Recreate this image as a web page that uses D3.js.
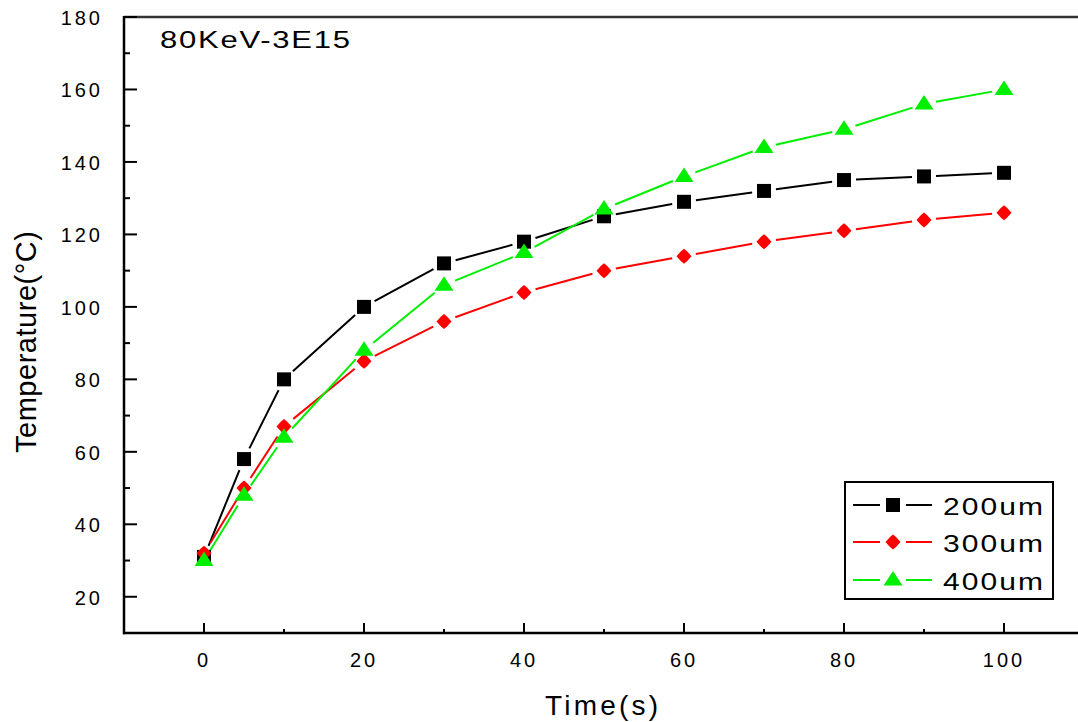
<!DOCTYPE html>
<html>
<head>
<meta charset="utf-8">
<script src="https://cdn.jsdelivr.net/npm/d3@7"></script>
<style>
  html, body { margin: 0; padding: 0; background: #fff; }
  svg { display: block; font-family: "Liberation Sans", Arial, sans-serif; }
</style>
</head>
<body>
<svg id="chart" width="1078" height="722"></svg>
<script>
// ---- data ----
const times = [0, 5, 10, 20, 30, 40, 50, 60, 70, 80, 90, 100];
const temp200 = [31, 58, 80, 100, 112, 118, 125, 129, 132, 135, 136, 137];
const temp300 = [32, 50, 67, 85, 96, 104, 110, 114, 118, 121, 124, 126];
const temp400 = [30, 48, 64, 88, 106, 115, 127, 136, 144, 149, 156, 160];
const seriesNames = ["200um", "300um", "400um"];
const xTickValues = [0, 20, 40, 60, 80, 100];
const yTickValues = [20, 40, 60, 80, 100, 120, 140, 160, 180];
const chartTitle = "80KeV-3E15";
const xTitle = "Time(s)";
const yTitle = "Temperature(°C)";

const series = [
  { name: seriesNames[0], values: temp200, color: "#000000", shape: "square" },
  { name: seriesNames[1], values: temp300, color: "#ff0000", shape: "diamond" },
  { name: seriesNames[2], values: temp400, color: "#00ee00", shape: "triangle" }
];

const svg = d3.select("#chart");
const x = d3.scaleLinear().domain([-10, 109.25]).range([124, 1078]);
const y = d3.scaleLinear().domain([10, 180]).range([633, 17]);

function markerPath(shape) {
  if (shape === "square") return "M-7,-7H7V7H-7Z";
  if (shape === "diamond") return "M0,-7.5L3,-5L7.5,0L3,5L0,7.5L-3,5L-7.5,0L-3,-5Z";
  return "M0,-9L9.5,5.5L-9.5,5.5Z";
}

// top frame line
svg.append("line").attr("x1", 124).attr("x2", 1078).attr("y1", y(180)).attr("y2", y(180))
  .attr("stroke", "#333").attr("stroke-width", 2.5);

// axes lines
svg.append("line").attr("x1", x(-10)).attr("x2", x(-10)).attr("y1", y(180) - 1).attr("y2", y(10) + 1.2)
  .attr("stroke", "#000").attr("stroke-width", 2.5);
svg.append("line").attr("x1", x(-10) - 1).attr("x2", 1078).attr("y1", y(10)).attr("y2", y(10))
  .attr("stroke", "#000").attr("stroke-width", 2.5);

// y ticks (inward)
const yMinor = d3.range(10, 181, 10).filter(v => v % 20 !== 0);
svg.selectAll(".ymaj").data(yTickValues).enter().append("line")
  .attr("x1", x(-10)).attr("x2", x(-10) + 13).attr("y1", d => y(d)).attr("y2", d => y(d))
  .attr("stroke", "#000").attr("stroke-width", 2);
svg.selectAll(".ymin").data(yMinor).enter().append("line")
  .attr("x1", x(-10)).attr("x2", x(-10) + 6).attr("y1", d => y(d)).attr("y2", d => y(d))
  .attr("stroke", "#000").attr("stroke-width", 2);
svg.selectAll(".ylab").data(yTickValues).enter().append("text")
  .attr("x", 103).attr("y", d => y(d) + 8)
  .attr("text-anchor", "end").attr("font-size", 20).attr("letter-spacing", 3)
  .attr("fill", "#000").text(d => d);

// x ticks (inward)
const xMinor = [10, 30, 50, 70, 90];
svg.selectAll(".xmaj").data(xTickValues).enter().append("line")
  .attr("x1", d => x(d)).attr("x2", d => x(d)).attr("y1", y(10)).attr("y2", y(10) - 10)
  .attr("stroke", "#000").attr("stroke-width", 2);
svg.selectAll(".xmin").data(xMinor).enter().append("line")
  .attr("x1", d => x(d)).attr("x2", d => x(d)).attr("y1", y(10)).attr("y2", y(10) - 4)
  .attr("stroke", "#000").attr("stroke-width", 2);
svg.selectAll(".xlab").data(xTickValues).enter().append("text")
  .attr("x", d => x(d)).attr("y", 667)
  .attr("text-anchor", "middle").attr("font-size", 20).attr("letter-spacing", 3)
  .attr("fill", "#000").text(d => d);

// axis titles
svg.append("text").attr("x", 545).attr("y", 715).attr("font-size", 28)
  .attr("textLength", 113).attr("lengthAdjust", "spacing").text(xTitle);
svg.append("text").attr("transform", "translate(36,453) rotate(-90)")
  .attr("font-size", 29).attr("textLength", 222).attr("lengthAdjust", "spacing").text(yTitle);

// chart title (wide, spaced glyphs)
const titleScale = 1.35;
svg.append("text").attr("transform", `translate(160,48) scale(${titleScale},1)`)
  .attr("font-size", 23)
  .attr("textLength", 190 / titleScale).attr("lengthAdjust", "spacing").text(chartTitle);

// series lines with gaps near markers
const gap = 12;
series.forEach(s => {
  const pts = times.map((t, i) => [x(t), y(s.values[i])]);
  const segs = [];
  for (let i = 0; i < pts.length - 1; i++) {
    const [x0, y0] = pts[i], [x1, y1] = pts[i + 1];
    const len = Math.hypot(x1 - x0, y1 - y0);
    if (len <= 2 * gap) continue;
    const ux = (x1 - x0) / len, uy = (y1 - y0) / len;
    segs.push([x0 + ux * gap, y0 + uy * gap, x1 - ux * gap, y1 - uy * gap]);
  }
  svg.append("g").selectAll("line").data(segs).enter().append("line")
    .attr("x1", d => d[0]).attr("y1", d => d[1]).attr("x2", d => d[2]).attr("y2", d => d[3])
    .attr("stroke", s.color).attr("stroke-width", 2);
});
// markers
series.forEach(s => {
  svg.append("g").selectAll("path").data(times.map((t, i) => [t, s.values[i]])).enter().append("path")
    .attr("d", markerPath(s.shape))
    .attr("transform", d => `translate(${x(d[0])},${y(d[1])})`)
    .attr("fill", s.color);
});

// legend
const lg = svg.append("g");
lg.append("rect").attr("x", 845).attr("y", 482).attr("width", 208).attr("height", 117)
  .attr("fill", "#fff").attr("stroke", "#000").attr("stroke-width", 2);
const rowY = [505, 542, 580];
const legScale = 1.25;
series.forEach((s, i) => {
  const ry = rowY[i];
  lg.append("line").attr("x1", 853).attr("x2", 880).attr("y1", ry).attr("y2", ry)
    .attr("stroke", s.color).attr("stroke-width", 2);
  lg.append("line").attr("x1", 906).attr("x2", 932).attr("y1", ry).attr("y2", ry)
    .attr("stroke", s.color).attr("stroke-width", 2);
  lg.append("path").attr("d", markerPath(s.shape))
    .attr("transform", `translate(893,${ry})`).attr("fill", s.color);
  lg.append("text").attr("transform", `translate(943,${ry + 9.5}) scale(${legScale},1)`)
    .attr("font-size", 24)
    .attr("textLength", 100 / legScale).attr("lengthAdjust", "spacing").text(s.name);
});
</script>
</body>
</html>
